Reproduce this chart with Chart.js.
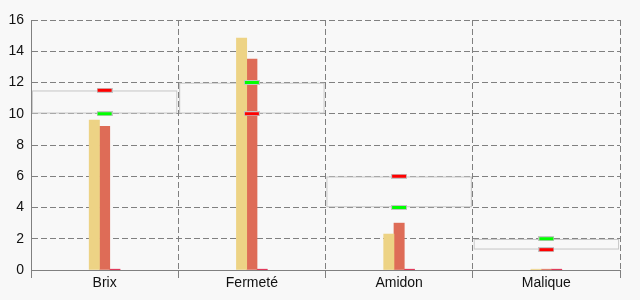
<!DOCTYPE html>
<html>
<head>
<meta charset="utf-8">
<script src="https://cdn.jsdelivr.net/npm/chart.js@4/dist/chart.umd.min.js"></script>
<style>
  html, body { margin: 0; padding: 0; background: #f8f8f8; }
  #c { display: block; }
</style>
</head>
<body>
<canvas id="c" width="640" height="300"></canvas>
<script>
// ---- data ----
const categories = ['Brix', 'Fermeté', 'Amidon', 'Malique'];
const seriesYellow = [9.6, 14.85, 2.3, 0.05];
const seriesOrange = [9.2, 13.5, 3.0, 0.05];
const seriesCrimson = [0.05, 0.05, 0.05, 0.05];
const rangeLow = [10, 10, 4, 1.3];
const rangeHigh = [11.5, 12, 6, 2];
const markerGreen = [10, 12, 4, 2];
const markerRed = [11.5, 10, 6, 1.3];
const yTicks = [0, 2, 4, 6, 8, 10, 12, 14, 16];

const ranges = rangeLow.map((lo, i) => [lo, rangeHigh[i]]);

function markerImage(fill) {
  const cv = document.createElement('canvas');
  cv.width = 16; cv.height = 5;
  const g = cv.getContext('2d');
  g.fillStyle = '#c4c4c4';
  g.fillRect(0, 0, 16, 5);
  g.fillStyle = fill;
  g.fillRect(1, 1, 14, 3);
  return cv;
}

const FONT = { family: '"Liberation Sans", Arial, sans-serif', size: 14 };

new Chart(document.getElementById('c'), {
  type: 'bar',
  data: {
    labels: categories,
    datasets: [
      { type: 'line', data: markerGreen, showLine: false, pointStyle: markerImage('#00ff00'), pointRadius: 8 },
      { type: 'line', data: markerRed, showLine: false, pointStyle: markerImage('#ff0000'), pointRadius: 8 },
      { data: seriesYellow, backgroundColor: '#edd385', barThickness: 10.3, borderWidth: 0 },
      { data: seriesOrange, backgroundColor: '#de6c57', barThickness: 10.3, borderWidth: 0 },
      { data: seriesCrimson, backgroundColor: '#dc143c', barThickness: 10.3, borderWidth: 0 },
      { data: ranges, grouped: false, categoryPercentage: 1, barPercentage: 0.99,
        backgroundColor: 'rgba(0,0,0,0)', borderColor: '#c8c8c8', borderWidth: 1.2, borderSkipped: false }
    ]
  },
  options: {
    responsive: false,
    animation: false,
    layout: { padding: { left: 0, right: 20, top: 20, bottom: 0 } },
    plugins: { legend: { display: false }, tooltip: { enabled: false } },
    scales: {
      x: {
        grid: { color: '#808080', tickLength: 8, tickColor: '#808080', offset: true },
        border: { color: '#808080', dash: [6, 3] },
        ticks: { color: '#111', font: FONT, padding: -3 },
        afterFit: s => { s.height = 30; }
      },
      y: {
        min: 0, max: 16,
        afterBuildTicks: s => { s.ticks = yTicks.map(v => ({ value: v })); },
        grid: { color: '#808080', drawTicks: false },
        border: { color: '#808080', dash: [6, 3] },
        ticks: { color: '#111', font: FONT, padding: 7 },
        afterFit: s => { s.width = 31; }
      }
    }
  }
});
</script>
</body>
</html>
